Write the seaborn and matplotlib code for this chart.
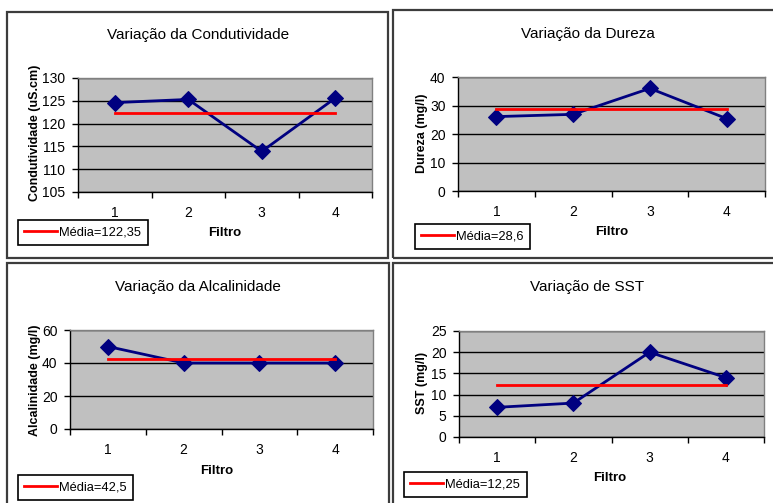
import matplotlib
matplotlib.use("Agg")
import matplotlib.pyplot as plt
from matplotlib.patches import Rectangle
from matplotlib.ticker import FixedLocator, NullFormatter
import seaborn as sns
import numpy as np

# Water-quality parameters measured at each filter
filtros = [1, 2, 3, 4]
condutividade = [124.6, 125.3, 113.9, 125.6]
dureza = [26.1, 26.9, 36.0, 25.4]
alcalinidade = [50, 40, 40, 40]
sst = [7, 8, 20, 14]

# Mean of each parameter (shown as the red reference line)
medias = [122.35, 28.6, 42.5, 12.25]

titulos = ["Variação da Condutividade", "Variação da Dureza",
           "Variação da Alcalinidade", "Variação de SST"]
rotulos_y = ["Condutividade (uS.cm)", "Dureza (mg/l)",
             "Alcalinidade (mg/l)", "SST (mg/l)"]
ticks_y = [[105, 110, 115, 120, 125, 130], [0, 10, 20, 30, 40],
           [0, 20, 40, 60], [0, 5, 10, 15, 20, 25]]
series = [condutividade, dureza, alcalinidade, sst]

W, H = 773, 503
plt.rcParams["font.family"] = ["Liberation Sans", "DejaVu Sans"]

fig = plt.figure(figsize=(W / 100, H / 100), dpi=100)
fig.patch.set_facecolor("white")


def fx(x):
    return x / W


def fy(y):
    return 1 - y / H


# Panel frames (left, top, right, bottom) in pixels
frames = [(7, 12, 388, 258), (393, 10, 780, 258),
          (7, 263, 389, 510), (393, 263, 780, 510)]
for l, t, r, b in frames:
    fig.patches.append(Rectangle((fx(l), fy(b)), fx(r - l), (b - t) / H,
                                 transform=fig.transFigure, fill=False,
                                 edgecolor="#3c3c3c", linewidth=1.6))

# Plot areas (left, top, right, bottom)
areas = [(78, 78, 372, 192), (458, 77, 765, 191),
         (70, 330, 373, 429), (459, 331, 764, 437)]
title_pos = [(198, 35), (588, 34), (198, 287), (587, 287)]
ylabel_pos = [(35, 133), (422, 133), (35, 380), (422, 383)]
xlabel_pos = [(225, 233), (612, 232), (217, 471), (610, 478)]
legend_pos = [(18, 220), (415, 224), (18, 475), (404, 472)]

navy = "#000080"
for i in range(4):
    l, t, r, b = areas[i]
    ax = fig.add_axes([fx(l), fy(b), fx(r - l), (b - t) / H])
    ax.set_facecolor("#c0c0c0")
    ax.set_axisbelow(True)

    sns.lineplot(x=filtros, y=series[i], ax=ax, color=navy, linewidth=2,
                 marker="D", markersize=8.5, markeredgecolor=navy,
                 markerfacecolor=navy, zorder=3)
    media_txt = ("Média=" + f"{medias[i]:g}").replace(".", ",")
    sns.lineplot(x=filtros, y=[medias[i]] * len(filtros), ax=ax,
                 color="#ff0000", linewidth=2, label=media_txt, zorder=4)

    ax.set_xlim(0.5, 4.5)
    yt = ticks_y[i]
    ax.set_ylim(yt[0], yt[-1])
    ax.set_yticks(yt)
    ax.set_yticklabels([str(v) for v in yt])
    ax.yaxis.grid(True, color="black", linewidth=1.0)
    ax.xaxis.grid(False)

    ax.set_xticks(filtros)
    ax.set_xticklabels([str(v) for v in filtros])
    ax.xaxis.set_minor_locator(FixedLocator([0.5, 1.5, 2.5, 3.5, 4.5]))
    ax.xaxis.set_minor_formatter(NullFormatter())
    ax.tick_params(axis="x", which="major", length=0, pad=10, labelsize=10)
    ax.tick_params(axis="x", which="minor", length=4, width=1, color="black",
                   direction="out")
    ax.tick_params(axis="y", length=4, width=1, color="black", pad=5,
                   labelsize=10, direction="out")

    for s in ("top", "right"):
        ax.spines[s].set_color("#808080")
        ax.spines[s].set_linewidth(1.0)
    for s in ("left", "bottom"):
        ax.spines[s].set_color("black")
        ax.spines[s].set_linewidth(1.0)

    ax.set_xlabel("")
    ax.set_ylabel("")

    ax.legend(loc="upper left",
              bbox_to_anchor=(fx(legend_pos[i][0]), fy(legend_pos[i][1])),
              bbox_transform=fig.transFigure, borderaxespad=0,
              frameon=True, fancybox=False, edgecolor="black",
              framealpha=1, fontsize=9.3, handlelength=2.5,
              handletextpad=0.2, borderpad=0.5)
    ax.get_legend().get_frame().set_linewidth(1.2)

    fig.text(fx(title_pos[i][0]), fy(title_pos[i][1]), titulos[i],
             ha="center", va="center", fontsize=11)
    fig.text(fx(ylabel_pos[i][0]), fy(ylabel_pos[i][1]), rotulos_y[i],
             ha="center", va="center", rotation=90, fontsize=9,
             fontweight="bold")
    fig.text(fx(xlabel_pos[i][0]), fy(xlabel_pos[i][1]), "Filtro",
             ha="center", va="center", fontsize=9.5, fontweight="bold")

fig.savefig("out.png", dpi=100)
